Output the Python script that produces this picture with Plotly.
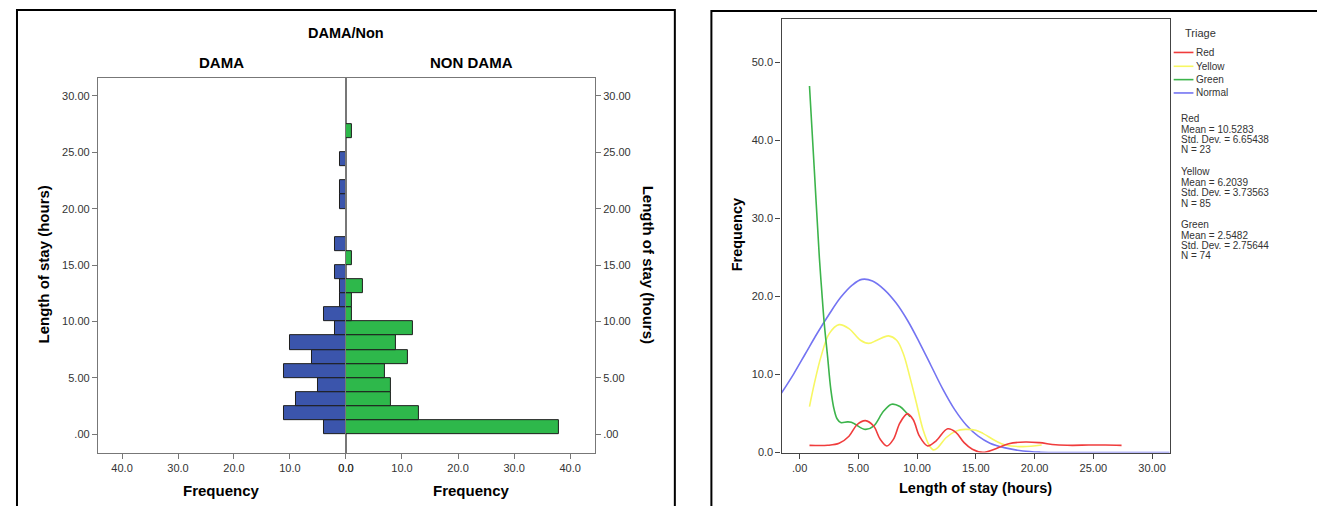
import plotly.graph_objects as go

# ---------------- data ----------------
# Left panel: population-pyramid histogram, bins of 1.25 h (lower edges)
bin_lower = [0.0, 1.25, 2.5, 3.75, 5.0, 6.25, 7.5, 8.75, 10.0, 11.25, 12.5,
             13.75, 15.0, 16.25, 17.5, 18.75, 20.0, 21.25, 22.5, 23.75, 25.0, 26.25]
bin_width = 1.25
dama_counts = [4, 11, 9, 5, 11, 6, 10, 2, 4, 1, 1, 2, 0, 2, 0, 0, 1, 1, 0, 1, 0, 0]
nondama_counts = [38, 13, 8, 8, 7, 11, 9, 12, 1, 1, 3, 0, 1, 0, 0, 0, 0, 0, 0, 0, 0, 1]

hist_y_ticks = [0, 5, 10, 15, 20, 25, 30]
hist_y_text = [".00", "5.00", "10.00", "15.00", "20.00", "25.00", "30.00"]
hist_x_ticks = [0, 10, 20, 30, 40]
hist_x_text = ["0.0", "10.0", "20.0", "30.0", "40.0"]

# Right panel: smoothed frequency curves by triage
red_x = [0.84, 2.38, 3.36, 4.2, 4.9, 5.6, 6.3, 6.86, 7.42, 7.98, 8.54, 9.16, 9.66, 10.2,
         10.9, 11.6, 12.6, 13.3, 14.0, 14.7, 15.6, 16.7, 17.8, 19.2, 20.4, 21.8, 23.2,
         24.6, 26.0, 27.4]
red_y = [0.93, 0.93, 1.19, 2.1, 3.6, 4.1, 3.4, 1.7, 0.85, 1.7, 3.8, 4.96, 4.24, 2.1,
         0.85, 1.48, 3.05, 2.6, 1.27, 0.42, 0.02, 0.5, 1.14, 1.36, 1.27, 1.0, 0.93,
         0.97, 0.97, 0.93]

yellow_x = [0.84, 1.26, 1.82, 2.52, 3.36, 4.2, 5.18, 5.88, 6.58, 7.56, 8.26, 8.82, 9.38,
            9.94, 10.5, 11.06, 11.4, 11.76, 12.46, 13.3, 14.1, 15.0, 15.6, 16.7, 17.5,
            19.0, 20.6]
yellow_y = [5.9, 8.9, 12.3, 15.25, 16.4, 15.9, 14.4, 14.0, 14.4, 14.96, 14.4, 12.7, 9.7,
            6.36, 2.97, 0.85, 0.35, 0.64, 1.9, 2.75, 2.97, 2.85, 2.46, 1.48, 0.97,
            0.76, 0.97]

green_x = [0.84, 1.26, 1.68, 1.88, 2.1, 2.38, 2.66, 2.94, 3.2, 3.5, 4.06, 4.4, 4.76,
           5.6, 6.3, 7.14, 7.84, 8.54, 9.1, 9.4]
green_y = [47.0, 36.0, 25.0, 20.8, 16.5, 12.3, 8.05, 5.5, 4.3, 3.85, 3.94, 3.9, 3.6,
           2.97, 3.4, 5.3, 6.2, 5.9, 5.1, 4.6]

normal_x = [-1.6, -0.5, 0.5, 1.5, 2.5, 3.5, 4.5, 5.3, 6.2, 7.2, 8.2, 9.2, 10.2, 11.2,
            12.2, 13.2, 14.2, 15.2, 16.2, 17.5, 19.0, 20.5, 22.5, 31.5]
normal_y = [7.5, 10.1, 12.7, 15.3, 17.7, 19.9, 21.5, 22.2, 22.0, 20.9, 19.2, 16.9, 14.1,
            11.1, 8.1, 5.5, 3.5, 2.1, 1.2, 0.6, 0.2, 0.05, 0.0, 0.0]

curve_x_ticks = [0, 5, 10, 15, 20, 25, 30]
curve_x_text = [".00", "5.00", "10.00", "15.00", "20.00", "25.00", "30.00"]
curve_y_ticks = [0, 10, 20, 30, 40, 50]
curve_y_text = ["0.0", "10.0", "20.0", "30.0", "40.0", "50.0"]

legend_names = ["Red", "Yellow", "Green", "Normal"]
legend_colors = ["#F03C3C", "#F7F763", "#3CB44B", "#7474F2"]
stats_blocks = [
    ["Red", "Mean = 10.5283", "Std. Dev. = 6.65438", "N = 23"],
    ["Yellow", "Mean = 6.2039", "Std. Dev. = 3.73563", "N = 85"],
    ["Green", "Mean = 2.5482", "Std. Dev. = 2.75644", "N = 74"],
]

# ---------------- figure ----------------
# page body has an 8px default margin, so the figure is 16px smaller
PAGE_W, PAGE_H = 1325, 514
BODY = 8
W, H = PAGE_W - 2 * BODY, PAGE_H - 2 * BODY
FONT = "Arial, Liberation Sans, sans-serif"


def fx(p):
    return (p - BODY) / W


def fy(p):
    return 1 - (p - BODY) / H


fig = go.Figure()

fig.add_trace(go.Bar(
    y=bin_lower, x=[c if c else None for c in dama_counts], orientation="h",
    width=bin_width, offset=0, xaxis="x", yaxis="y",
    marker=dict(color="#3B55AC", line=dict(color="#1E1E1E", width=1)),
    showlegend=False, hoverinfo="skip"))
fig.add_trace(go.Bar(
    y=bin_lower, x=[c if c else None for c in nondama_counts], orientation="h",
    width=bin_width, offset=0, xaxis="x2", yaxis="y2",
    marker=dict(color="#2EB84B", line=dict(color="#1E1E1E", width=1)),
    showlegend=False, hoverinfo="skip"))

for xs, ys, col in [(normal_x, normal_y, legend_colors[3]),
                    (yellow_x, yellow_y, legend_colors[1]),
                    (green_x, green_y, legend_colors[2]),
                    (red_x, red_y, legend_colors[0])]:
    fig.add_trace(go.Scatter(
        x=xs, y=ys, mode="lines", xaxis="x3", yaxis="y3",
        line=dict(color=col, width=1.6, shape="spline", smoothing=1.0),
        showlegend=False, hoverinfo="skip"))

tickfont = dict(family=FONT, size=11, color="#333333")
frame_col = "#777777"
ax_common = dict(showgrid=False, zeroline=False, showline=True, mirror=True,
                 ticks="outside", ticklen=5, tickwidth=1, tickfont=tickfont)

hist_y_dom = [fy(458), fy(79)]
hist_y_rng = [-1.62, 31.57]

fig.update_layout(
    width=W, height=H,
    margin=dict(l=0, r=0, t=0, b=0),
    paper_bgcolor="white", plot_bgcolor="white",
    font=dict(family=FONT),
    bargap=0,
    xaxis=dict(domain=[fx(91), fx(342)], range=[44.3, 0], anchor="y",
               tickvals=hist_x_ticks, ticktext=hist_x_text,
               linecolor=frame_col, tickcolor=frame_col, linewidth=1.3, **ax_common),
    yaxis=dict(domain=hist_y_dom, range=hist_y_rng, anchor="x",
               tickvals=hist_y_ticks, ticktext=hist_y_text,
               linecolor=frame_col, tickcolor=frame_col, linewidth=1.3, **ax_common),
    xaxis2=dict(domain=[fx(342), fx(594)], range=[0, 44.4], anchor="y2",
                tickvals=hist_x_ticks, ticktext=hist_x_text,
                linecolor=frame_col, tickcolor=frame_col, linewidth=1.3, **ax_common),
    yaxis2=dict(domain=hist_y_dom, range=hist_y_rng, anchor="x2", side="right",
                tickvals=hist_y_ticks, ticktext=hist_y_text,
                linecolor=frame_col, tickcolor=frame_col, linewidth=1.3, **ax_common),
    xaxis3=dict(domain=[fx(783), fx(1176)], range=[-1.54, 31.5], anchor="y3",
                tickvals=curve_x_ticks, ticktext=curve_x_text,
                linecolor="#444444", tickcolor="#444444", linewidth=1.3, **ax_common),
    yaxis3=dict(domain=[fy(458), fy(19)], range=[0, 55.6], anchor="x3",
                tickvals=curve_y_ticks, ticktext=curve_y_text,
                linecolor="#444444", tickcolor="#444444", linewidth=1.3, **ax_common),
)

# outer panel borders
fig.add_shape(type="rect", xref="paper", yref="paper",
              x0=fx(9), x1=fx(675), y0=-0.2, y1=fy(10),
              line=dict(color="black", width=2), fillcolor="rgba(0,0,0,0)", layer="below")
fig.add_shape(type="rect", xref="paper", yref="paper",
              x0=fx(712), x1=1.1, y0=-0.2, y1=fy(11),
              line=dict(color="black", width=2), fillcolor="rgba(0,0,0,0)", layer="below")

ann = []


def text(x, y, t, size=15, bold=True, angle=0, xanchor="center", color="black"):
    ann.append(dict(x=fx(x), y=fy(y), xref="paper", yref="paper",
                    text=("<b>%s</b>" % t) if bold else t, showarrow=False,
                    textangle=angle, xanchor=xanchor, yanchor="middle",
                    font=dict(family=FONT, size=size, color=color)))


text(342, 33, "DAMA/Non", size=14.5)
text(216, 63, "DAMA", size=15)
text(469, 63, "NON DAMA", size=15)
text(216, 496, "Frequency", size=15)
text(469, 496, "Frequency", size=15)
text(36, 268, "Length of stay (hours)", size=15, angle=-90)
text(648, 268, "Length of stay (hours)", size=15, angle=90)

text(738, 238, "Frequency", size=14.5, angle=-90)
text(979, 494, "Length of stay (hours)", size=14.5)

# manual legend
text(1189, 33, "Triage", size=11, bold=False, xanchor="left", color="#333333")
leg_y = [53, 67, 80.5, 94]
for name, col, yy in zip(legend_names, legend_colors, leg_y):
    fig.add_shape(type="line", xref="paper", yref="paper",
                  x0=fx(1180), x1=fx(1200), y0=fy(yy), y1=fy(yy),
                  line=dict(color=col, width=1.6))
    text(1201, yy, name, size=10, bold=False, xanchor="left", color="#333333")

block_top = [120, 174, 227.5]
for block, y0 in zip(stats_blocks, block_top):
    for i, line in enumerate(block):
        text(1185, y0 + 10.5 * i, line, size=10, bold=False, xanchor="left",
             color="#333333")

fig.update_layout(annotations=ann)

fig.write_html("out.html")
